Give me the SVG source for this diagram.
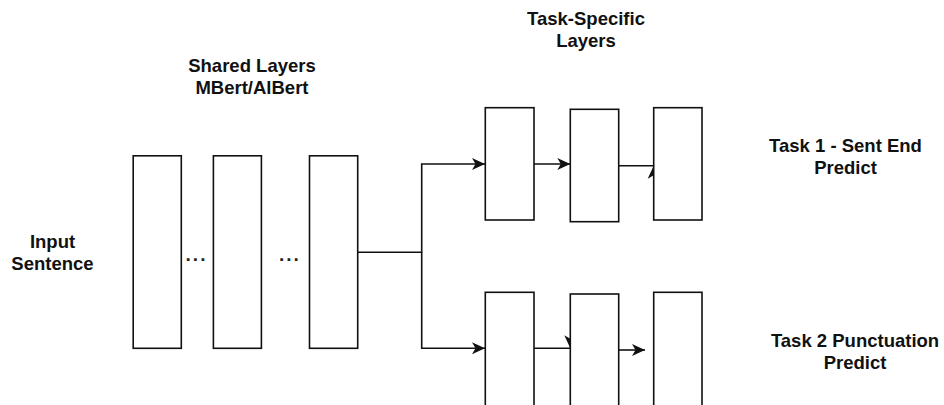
<svg xmlns="http://www.w3.org/2000/svg" width="944" height="405" viewBox="0 0 944 405">
  <defs>
    <style>
      .box { fill: #ffffff; stroke: #111111; stroke-width: 1.6; }
      .conn { fill: none; stroke: #111111; stroke-width: 1.6; }
      .head { fill: #111111; stroke: none; }
      .lbl { font-family: "Liberation Sans", Arial, sans-serif; font-weight: bold; font-size: 18.5px; fill: #111111; text-anchor: middle; }
      .dots { font-family: "Liberation Sans", Arial, sans-serif; font-weight: bold; font-size: 19px; fill: #222222; letter-spacing: 2px; }
    </style>
    <marker id="arr" markerUnits="userSpaceOnUse" markerWidth="16" markerHeight="16" viewBox="-14 -8 16 16" refX="0" refY="0" orient="auto">
      <path d="M0,0 L-13,-6 L-9.5,0 L-13,6 Z" class="head"/>
    </marker>
  </defs>
  <rect x="0" y="0" width="944" height="405" fill="#ffffff"/>

  <g id="labels">
    <text class="lbl" x="252" y="71.5">Shared Layers</text>
    <text class="lbl" x="252" y="93.5">MBert/AlBert</text>
    <text class="lbl" x="52.5" y="248.3">Input</text>
    <text class="lbl" x="52.5" y="270">Sentence</text>
    <text class="lbl" x="586" y="24.5">Task-Specific</text>
    <text class="lbl" x="586" y="46.5">Layers</text>
    <text class="lbl" x="845.5" y="151.5">Task 1 - Sent End</text>
    <text class="lbl" x="845.5" y="173.5">Predict</text>
    <text class="lbl" x="855" y="346.7">Task 2 Punctuation</text>
    <text class="lbl" x="855" y="368.5">Predict</text>
  </g>

  <g id="connectors">
    <path class="conn" d="M357.7,252.3 H421.7 V164 H485" marker-end="url(#arr)"/>
    <path class="conn" d="M421.7,252.3 V348.3 H485" marker-end="url(#arr)"/>
    <path class="conn" d="M534,164 H570.3" marker-end="url(#arr)"/>
    <path class="conn" d="M618.7,165.7 H653.7"/>
    <path class="head" d="M653.7,165.7 L647.7,178.7 L653.7,175.2 L659.7,178.7 Z"/>
    <path class="conn" d="M534,348.3 H570.3"/>
    <path class="head" d="M570.3,348.3 L564.3,335.3 L570.3,338.8 L576.3,335.3 Z"/>
    <path class="conn" d="M618.7,350 H645" marker-end="url(#arr)"/>
  </g>

  <g id="shared1"><rect class="box" x="133.2" y="155.8" width="48.1" height="192.5"/></g>
  <g id="shared2"><rect class="box" x="213.4" y="155.8" width="48" height="192.5"/></g>
  <g id="shared3"><rect class="box" x="309.5" y="155.8" width="48.2" height="192.5"/></g>
  <g id="dots1"><text class="dots" x="185.6" y="260.5">...</text></g>
  <g id="dots2"><text class="dots" x="279" y="260.5">...</text></g>

  <g id="task1a"><rect class="box" x="485.3" y="107.7" width="48.7" height="112.3"/></g>
  <g id="task1b"><rect class="box" x="570.3" y="109.3" width="48.4" height="112.4"/></g>
  <g id="task1c"><rect class="box" x="653.7" y="107.7" width="48.3" height="112.3"/></g>

  <g id="task2a"><rect class="box" x="485.3" y="292.3" width="48.7" height="115"/></g>
  <g id="task2b"><rect class="box" x="570.3" y="294" width="48.4" height="115"/></g>
  <g id="task2c"><rect class="box" x="653.7" y="292.3" width="48.3" height="115"/></g>
</svg>
